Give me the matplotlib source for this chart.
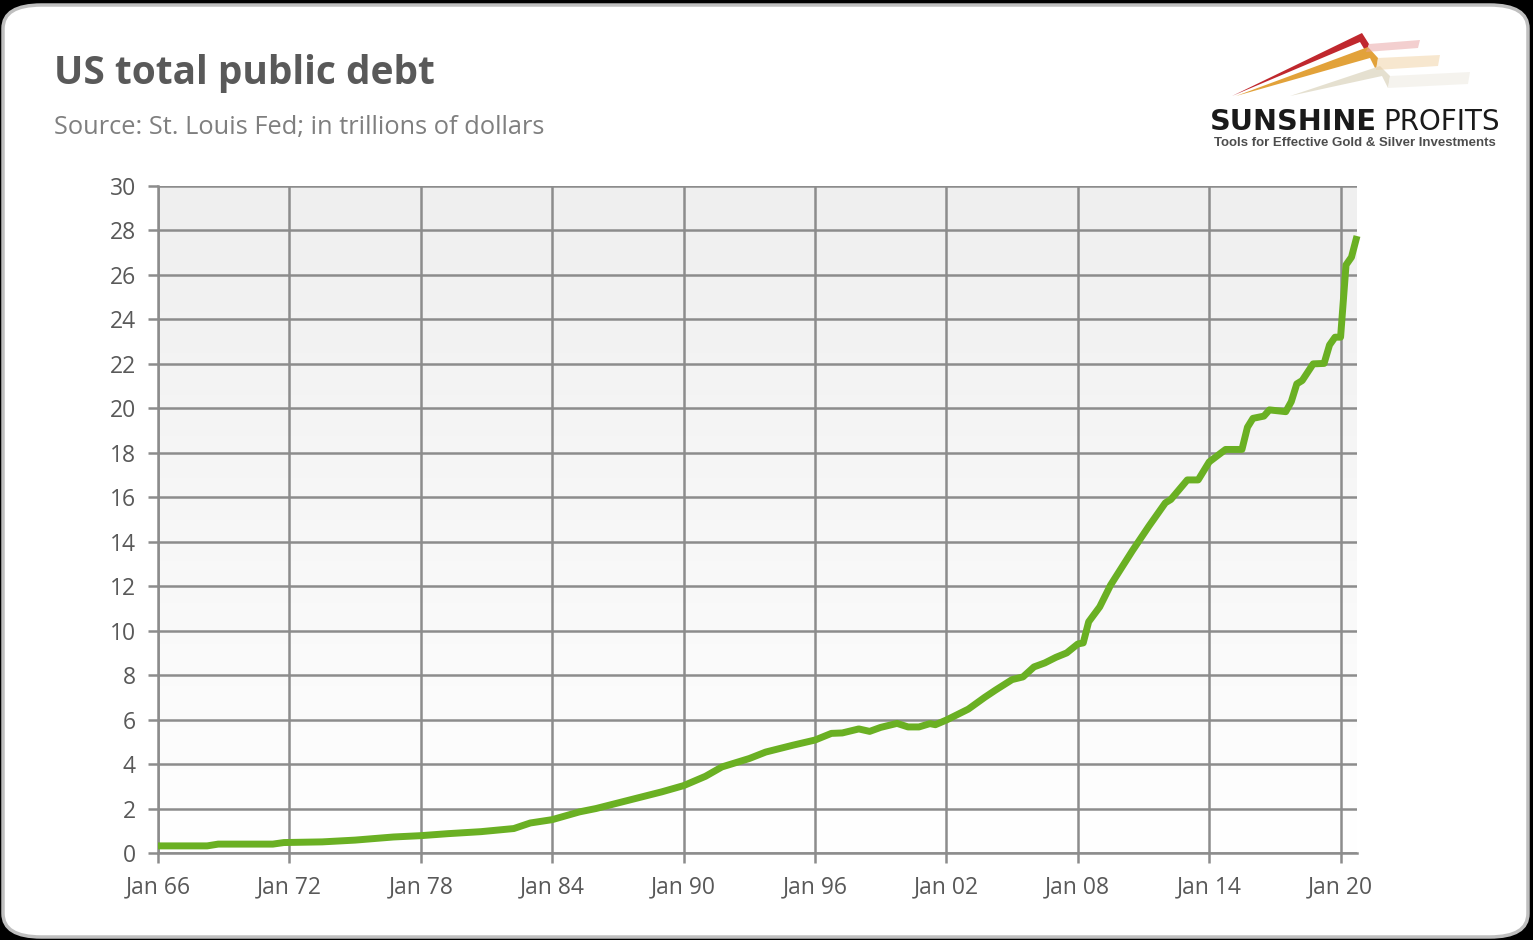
import numpy as np
import pandas as pd
import matplotlib
matplotlib.use("Agg")
import matplotlib.pyplot as plt
from matplotlib.patches import FancyBboxPatch, Polygon

# US total public debt, trillions of dollars
dates = ["1966-01", "1968-04", "1968-10", "1971-04", "1971-10", "1973-07", "1975-01",
         "1976-10", "1978-01", "1979-04", "1980-10", "1982-04", "1983-01", "1984-01",
         "1985-04", "1986-01", "1987-01", "1988-01", "1989-01", "1990-01", "1991-01",
         "1991-10", "1993-01", "1993-10", "1995-01", "1996-01", "1996-10", "1997-04",
         "1998-01", "1998-07", "1999-01", "1999-10", "2000-04", "2000-10", "2001-04",
         "2001-07", "2002-01", "2003-01", "2003-10", "2004-04", "2005-01", "2005-07",
         "2006-01", "2006-07", "2007-01", "2007-07", "2008-01", "2008-04", "2008-07",
         "2009-01", "2009-07", "2010-07", "2011-04", "2012-01", "2012-04", "2013-01",
         "2013-07", "2014-01", "2014-10", "2015-07", "2015-10", "2016-01", "2016-07",
         "2016-10", "2017-07", "2017-10", "2018-01", "2018-04", "2018-10", "2019-04",
         "2019-07", "2019-10", "2020-01", "2020-04", "2020-07", "2020-10"]
debt = [0.32, 0.32, 0.40, 0.40, 0.47, 0.50, 0.58,
        0.72, 0.78, 0.87, 0.96, 1.10, 1.35, 1.50,
        1.85, 2.00, 2.25, 2.50, 2.75, 3.03, 3.45,
        3.87, 4.25, 4.54, 4.85, 5.08, 5.38, 5.40,
        5.58, 5.47, 5.65, 5.83, 5.67, 5.67, 5.82,
        5.77, 5.98, 6.47, 7.00, 7.33, 7.80, 7.92,
        8.37, 8.55, 8.80, 9.00, 9.40, 9.45, 10.40,
        11.07, 12.05, 13.60, 14.70, 15.75, 15.90, 16.78,
        16.78, 17.59, 18.15, 18.15, 19.15, 19.55, 19.65,
        19.93, 19.85, 20.30, 21.10, 21.25, 22.00, 22.02,
        22.85, 23.20, 23.20, 26.45, 26.80, 27.75]
tick_years = [1966, 1972, 1978, 1984, 1990, 1996, 2002, 2008, 2014, 2020]

W, H = 1533, 940
fig = plt.figure(figsize=(W / 100, H / 100), dpi=100)
fig.patch.set_facecolor("black")

def px(x, y):
    return (x / W, 1 - y / H)

# rounded white card behind everything
card = FancyBboxPatch((3 / W, 3 / H), (W - 8) / W, (H - 8) / H,
                      boxstyle="round,pad=0,rounding_size=0.025",
                      transform=fig.transFigure, facecolor="white",
                      edgecolor="#bfbfbf", linewidth=2.5, zorder=-5)
fig.patches.append(card)

ax = fig.add_axes([158 / W, (H - 853) / H, (1357 - 158) / W, (853 - 186) / H])
ax.set_facecolor("none")

# grey-to-white gradient background
grad = np.linspace(0, 1, 256).reshape(-1, 1)
ax.imshow(grad, extent=[0, 1, 0, 1], transform=ax.transAxes, aspect="auto",
          cmap=matplotlib.colors.LinearSegmentedColormap.from_list("g", ["white", "#efefef"]),
          origin="lower", zorder=0)

x = pd.to_datetime(dates)
ax.plot(x, debt, color="#6ab023", linewidth=5, solid_joinstyle="round",
        solid_capstyle="butt", zorder=3, clip_on=False)

ax.set_xlim(pd.Timestamp("1966-01-01"), pd.Timestamp("2020-10-01"))
ax.set_ylim(0, 30)
ax.set_yticks(range(0, 31, 2))
ax.set_xticks([pd.Timestamp(f"{y}-01-01") for y in tick_years])
ax.set_xticklabels([f"Jan {str(y)[2:]}" for y in tick_years])

ax.grid(True, color="#8c8c8c", linewidth=1.8, zorder=1)
ax.set_axisbelow(True)
for s in ["top", "right"]:
    ax.spines[s].set_visible(False)
for s in ["left", "bottom"]:
    ax.spines[s].set_color("#8c8c8c")
    ax.spines[s].set_linewidth(1.8)
ax.tick_params(axis="both", direction="out", length=7, width=1.8, color="#8c8c8c",
               labelcolor="#595959", labelsize=16.5)
ax.tick_params(axis="y", pad=9)
ax.tick_params(axis="x", pad=9)
for lab in ax.get_xticklabels() + ax.get_yticklabels():
    lab.set_fontfamily("Open Sans")

fig.text(*px(54, 84), "US total public debt", fontsize=28, fontweight="bold",
         color="#595959", family="Open Sans", va="baseline")
fig.text(*px(54, 134), "Source: St. Louis Fed; in trillions of dollars", fontsize=18.3,
         color="#7f7f7f", family="Open Sans", va="baseline")

# logo
def wedge(pts, color, alpha=1.0):
    fig.patches.append(Polygon([px(*p) for p in pts], closed=True, transform=fig.transFigure,
                               facecolor=color, edgecolor="none", alpha=alpha, zorder=2))

wedge([(1232, 96), (1362, 33), (1369, 44), (1366, 52), (1360, 42)], "#c0282e")
wedge([(1236, 96), (1368, 47), (1378, 58), (1376, 70), (1370, 58)], "#e2a23a")
wedge([(1290, 96), (1380, 66), (1390, 76), (1388, 88), (1382, 76)], "#e5e0d0")
wedge([(1369, 44), (1420, 40), (1418, 48), (1366, 52)], "#e8a0a0", 0.5)
wedge([(1378, 58), (1440, 55), (1438, 66), (1376, 70)], "#f0d0a0", 0.5)
wedge([(1390, 76), (1470, 72), (1468, 84), (1388, 88)], "#efece4", 0.6)
fig.text(*px(1210, 130), "SUNSHINE", fontsize=20.7, fontweight="bold", color="#1a1a1a",
         family="DejaVu Sans", va="baseline")
fig.text(*px(1383, 130), "PROFITS", fontsize=20, color="#1a1a1a",
         family="DejaVu Sans", va="baseline")
fig.text(*px(1355, 146), "Tools for Effective Gold & Silver Investments", fontsize=9.5,
         fontweight="bold", color="#4d4d4d", family="Liberation Sans", va="baseline",
         ha="center")

fig.savefig("out.png", dpi=100, facecolor=fig.get_facecolor())
